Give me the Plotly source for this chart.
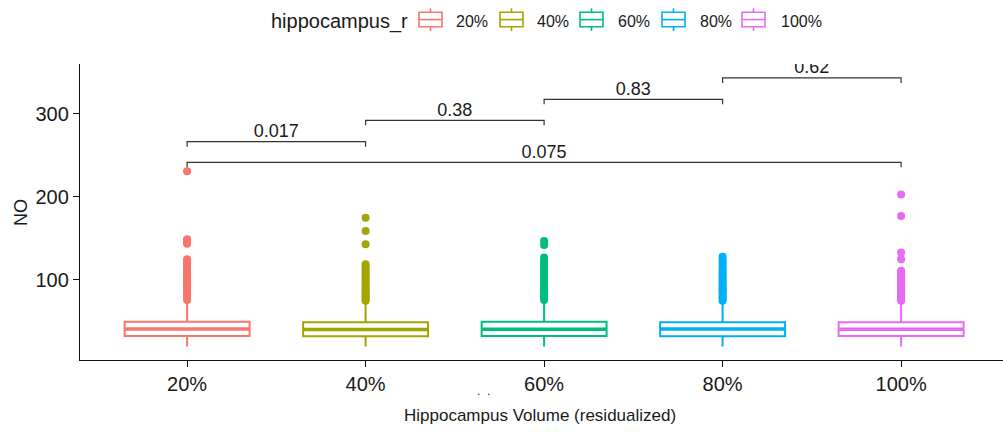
import plotly.graph_objects as go

# ---- data -------------------------------------------------------------
groups = ["20%", "40%", "60%", "80%", "100%"]
colors = ["#F8766D", "#A3A500", "#00BF7D", "#00B0F6", "#E76BF3"]

q1 = [32.5, 32.2, 32.5, 32.3, 32.5]
median = [41.0, 40.3, 40.7, 41.0, 40.6]
q3 = [49.8, 49.2, 49.8, 49.2, 49.0]
lowerfence = [20, 20, 20, 20, 20]
upperfence = [74, 73, 74, 72, 72]

out_20 = [231, 149, 147, 145, 143.5, 125, 122, 120, 117, 115, 113, 110, 108,
          105, 103, 100, 98, 96, 94, 92, 90, 88, 86, 84, 82, 80, 78, 76]
out_40 = [175, 159, 143, 119, 116, 113, 110, 107, 104, 102, 99, 97, 94, 92,
          89, 87, 85, 83, 81, 79, 77, 75]
out_60 = [147, 142, 127, 124, 121, 119, 116, 113, 111, 108, 105, 103, 100, 98,
          95, 93, 90, 88, 86, 84, 82, 80, 78, 76]
out_80 = [128, 124, 121, 118, 115, 112, 110, 107, 104, 102, 99, 97, 94, 92,
          90, 88, 86, 84, 81, 79, 77, 75]
out_100 = [203, 177, 133, 125, 111, 109, 106, 104, 101, 99, 96, 94, 91, 89,
           87, 85, 83, 81, 79, 77, 75]
outliers = [out_20, out_40, out_60, out_80, out_100]

# pairwise comparisons (group index pairs), p-values and bracket heights
cmp_from = [0, 1, 2, 3, 0]
cmp_to = [1, 2, 3, 4, 4]
p_labels = ["0.017", "0.38", "0.83", "0.62", "0.075"]
bracket_y = [266.6, 292.4, 317.7, 343.4, 241.8]

# ---- layout geometry -------------------------------------------------
W, H = 1003, 433
ML, MR, MT, MB = 80, 0, 64, 73
PW, PH = W - ML - MR, H - MT - MB
FONT = "Liberation Sans, Arial, sans-serif"
INK = "#1a1a1a"
BOX_W = 0.7
TIP = 6.0         # bracket tip length (y units)
LABEL_UP = 10.8   # p-value label offset above bracket (y units)


def px(x):
    return (x - ML) / PW


def py(y):
    return (H - MB - y) / PH


fig = go.Figure()
shapes = []

for i, g in enumerate(groups):
    fig.add_trace(go.Box(
        x=[i], q1=[q1[i]], median=[median[i]], q3=[q3[i]],
        lowerfence=[lowerfence[i]], upperfence=[upperfence[i]],
        width=BOX_W, whiskerwidth=0, fillcolor="white", boxpoints=False,
        line=dict(color=colors[i], width=2), name=g, showlegend=False,
        hoverinfo="skip",
    ))
    # thicker median bar
    shapes.append(dict(type="line", xref="x", yref="y",
                       x0=i - BOX_W / 2, x1=i + BOX_W / 2,
                       y0=median[i], y1=median[i],
                       line=dict(color=colors[i], width=3.5)))
    fig.add_trace(go.Scatter(
        x=[i] * len(outliers[i]), y=outliers[i], mode="markers",
        marker=dict(color=colors[i], size=8, line=dict(width=0)),
        showlegend=False, hoverinfo="skip",
    ))

# significance brackets
bx, by = [], []
for a, b, yb in zip(cmp_from, cmp_to, bracket_y):
    bx += [a, a, b, b, None]
    by += [yb - TIP, yb, yb, yb - TIP, None]
fig.add_trace(go.Scatter(x=bx, y=by, mode="lines",
                         line=dict(color="#333333", width=1.2),
                         showlegend=False, hoverinfo="skip"))
fig.add_trace(go.Scatter(
    x=[(a + b) / 2 for a, b in zip(cmp_from, cmp_to)],
    y=[yb + LABEL_UP for yb in bracket_y],
    text=p_labels, mode="text", textposition="middle center",
    textfont=dict(family=FONT, size=18, color=INK),
    cliponaxis=True, showlegend=False, hoverinfo="skip",
))

# legend drawn by hand: box glyph with median and whiskers
leg_icon_x = [419, 500, 580, 662, 742]
leg_text_x = [454, 535, 616, 698, 779]
ICON_W = 23
annotations = [dict(text="hippocampus_r", x=px(269), y=py(21), xref="paper",
                    yref="paper", xanchor="left", yanchor="middle",
                    showarrow=False, font=dict(family=FONT, size=20, color=INK))]
for i, g in enumerate(groups):
    x0, x1 = leg_icon_x[i], leg_icon_x[i] + ICON_W
    xc = (x0 + x1) / 2
    c = colors[i]
    shapes.append(dict(type="rect", xref="paper", yref="paper",
                       x0=px(x0), x1=px(x1), y0=py(12.3), y1=py(26.7),
                       line=dict(color=c, width=1.6), fillcolor="white"))
    shapes.append(dict(type="line", xref="paper", yref="paper",
                       x0=px(x0), x1=px(x1), y0=py(19.6), y1=py(19.6),
                       line=dict(color=c, width=1.6)))
    shapes.append(dict(type="line", xref="paper", yref="paper",
                       x0=px(xc), x1=px(xc), y0=py(8.3), y1=py(12.3),
                       line=dict(color=c, width=1.6)))
    shapes.append(dict(type="line", xref="paper", yref="paper",
                       x0=px(xc), x1=px(xc), y0=py(26.7), y1=py(31),
                       line=dict(color=c, width=1.6)))
    annotations.append(dict(text=g, x=px(leg_text_x[i]), y=py(21.5),
                            xref="paper", yref="paper", xanchor="left",
                            yanchor="middle", showarrow=False,
                            font=dict(family=FONT, size=16, color=INK)))

# axis titles
annotations.append(dict(text="Hippocampus Volume (residualized)", x=px(540),
                        y=py(415), xref="paper", yref="paper",
                        xanchor="center", yanchor="middle", showarrow=False,
                        font=dict(family=FONT, size=17, color=INK)))
annotations.append(dict(text=".&nbsp;&nbsp;.", x=px(483), y=py(391), xref="paper",
                        yref="paper", xanchor="center", yanchor="middle",
                        showarrow=False,
                        font=dict(family=FONT, size=12, color="#333333")))
annotations.append(dict(text="NO", x=px(21), y=py(213), xref="paper",
                        yref="paper", xanchor="center", yanchor="middle",
                        textangle=-90, showarrow=False,
                        font=dict(family=FONT, size=18, color=INK)))

axis_common = dict(showline=True, linecolor="#111111", linewidth=1.3,
                   ticks="outside", ticklen=6, tickwidth=1.3,
                   tickcolor="#111111", showgrid=False, zeroline=False,
                   tickfont=dict(family=FONT, size=20, color=INK))

fig.update_layout(
    width=W, height=H,
    margin=dict(l=ML, r=MR, t=MT, b=MB, pad=0),
    paper_bgcolor="white", plot_bgcolor="white",
    showlegend=False,
    xaxis=dict(range=[-0.6, -0.6 + PW / 178.5], tickvals=list(range(len(groups))),
               ticktext=groups, **axis_common),
    yaxis=dict(range=[3.6, 360.2], tickvals=[100, 200, 300], **axis_common),
    shapes=shapes, annotations=annotations,
)

fig.write_html("out.html")
